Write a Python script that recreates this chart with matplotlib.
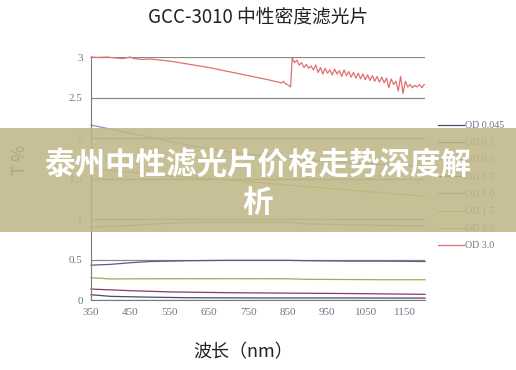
import matplotlib
matplotlib.use('Agg')
import matplotlib.pyplot as plt
from matplotlib.patches import Rectangle

'''GCC-3010 neutral density filter transmission curves'''

plt.rcParams['font.family'] = ['Noto Sans CJK SC', 'DejaVu Sans']

# smooth curves, wavelength in nm
x_045 = [350, 400, 500, 600, 800, 1000, 1200]
y_045 = [0.065, 0.045, 0.035, 0.028, 0.025, 0.025, 0.024]

x_01 = [350, 450, 550, 700, 850, 1000, 1200]
y_01 = [0.135, 0.115, 0.10, 0.09, 0.085, 0.08, 0.07]

x_03 = [350, 400, 450, 500, 550, 600, 650, 700, 750, 800, 900, 1000, 1100, 1200]
y_03 = [2.16, 2.11, 2.06, 2.01, 1.96, 1.91, 1.87, 1.83, 1.80, 1.77, 1.73, 1.70, 1.67, 1.65]

x_05 = [350, 400, 450, 500, 600, 700, 850, 900, 1000, 1100, 1200]
y_05 = [0.43, 0.44, 0.46, 0.475, 0.485, 0.49, 0.49, 0.485, 0.48, 0.48, 0.475]

x_10 = [350, 450, 550, 650, 750, 850, 900, 1000, 1100, 1200]
y_10 = [0.90, 0.92, 0.95, 0.96, 0.96, 0.96, 0.94, 0.93, 0.92, 0.915]

x_15 = [350, 450, 550, 650, 750, 850, 950, 1050, 1150, 1200]
y_15 = [1.62, 1.58, 1.53, 1.50, 1.46, 1.42, 1.38, 1.34, 1.30, 1.28]

x_20 = [350, 400, 500, 700, 850, 900, 1000, 1100, 1200]
y_20 = [0.275, 0.26, 0.262, 0.263, 0.262, 0.255, 0.253, 0.25, 0.25]

x_30 = [350, 370, 390, 410, 430, 440, 450, 460, 480, 500, 520, 550, 600, 650, 700,
        750, 800, 835, 840, 845, 850, 858,
        862, 868, 874, 880, 886, 892, 898, 904, 910, 916, 922, 928, 934, 940, 946,
        952, 958, 964, 970, 976, 982, 988, 994, 1000, 1006, 1012, 1018, 1024, 1030,
        1036, 1042, 1048, 1054, 1060, 1066, 1072, 1078, 1084, 1090, 1096, 1102, 1108,
        1114, 1120, 1126, 1132, 1138, 1144, 1150, 1156, 1162, 1168, 1174, 1180, 1186,
        1192, 1198]
y_30 = [3.0, 2.995, 3.0, 2.99, 2.98, 2.99, 3.0, 2.98, 2.97, 2.975, 2.965, 2.95, 2.91, 2.87, 2.82,
        2.77, 2.72, 2.68, 2.70, 2.67, 2.66, 2.63,
        2.99, 2.93, 2.96, 2.90, 2.93, 2.87, 2.91, 2.86, 2.89, 2.84, 2.90, 2.81, 2.87, 2.79, 2.86,
        2.80, 2.84, 2.78, 2.85, 2.79, 2.83, 2.76, 2.84, 2.77, 2.82, 2.75, 2.81, 2.74, 2.80,
        2.73, 2.79, 2.72, 2.78, 2.71, 2.77, 2.70, 2.76, 2.69, 2.75, 2.68, 2.74, 2.62,
        2.73, 2.66, 2.70, 2.58, 2.76, 2.55, 2.70, 2.63, 2.66, 2.62, 2.65, 2.63, 2.66,
        2.62, 2.66]

labels = ['OD 0.045', 'OD 0.1', 'OD 0.3', 'OD 0.5', 'OD 1.0', 'OD 1.5', 'OD 2.0', 'OD 3.0']
xs = [x_045, x_01, x_03, x_05, x_10, x_15, x_20, x_30]
ys = [y_045, y_01, y_03, y_05, y_10, y_15, y_20, y_30]
colors = ['#4a4a6e', '#8c3a64', '#8e8ec8', '#5a5a86', '#7fa07a', '#d8a030', '#a8a855', '#e07070']

x_ticks = [350, 450, 550, 650, 750, 850, 950, 1050, 1150]
y_ticks = [0, 0.5, 1, 1.5, 2, 2.5, 3]
y_tick_labels = ['0', '0.5', '1', '1.5', '2', '2.5', '3']

fig = plt.figure(figsize=(5.16, 3.70), dpi=100)
ax = fig.add_axes([91 / 516, 1 - 300 / 370, 334 / 516, 243 / 370])

for x, y, c, lab in zip(xs, ys, colors, labels):
    ax.plot(x, y, color=c, linewidth=0.9, label=lab, clip_on=False)

ax.set_xlim(350, 1200)
ax.set_ylim(0, 3)
ax.set_xticks(x_ticks)
ax.set_yticks(y_ticks)
ax.set_yticklabels(y_tick_labels)
ax.tick_params(length=0, labelsize=8, labelcolor='#6b7785', pad=6)
for lab in ax.get_xticklabels() + ax.get_yticklabels():
    lab.set_family('Liberation Serif')
ax.grid(axis='y', color='#8a8a8a', linewidth=0.9)
ax.set_axisbelow(True)
for s in ['top', 'right']:
    ax.spines[s].set_visible(False)
ax.spines['left'].set_color('#7a7a7a')
ax.spines['bottom'].set_color('#7a7a7a')

leg = ax.legend(loc='center left', bbox_to_anchor=(1.012, 0.47), frameon=False,
                prop={'family': 'Liberation Serif', 'size': 7.2}, handlelength=2.6,
                handletextpad=0.1, labelspacing=0.82, labelcolor='#6b7785')

fig.text(0.5, 1 - 17 / 370, 'GCC-3010 中性密度滤光片', ha='center', va='center',
         fontsize=13.5, color='#222222')
fig.text(20 / 516, 1 - 160 / 370, 'T %', rotation=90, ha='center', va='center',
         fontsize=12.5, color='#444444')
fig.text(243 / 516, 1 - 352 / 370, '波长（nm）', ha='center', va='center',
         fontsize=13, color='#222222')

# banner overlay
fig.patches.append(Rectangle((0, 1 - 232 / 370), 1, 104 / 370, transform=fig.transFigure,
                             facecolor='#bfb787', alpha=0.87, edgecolor='none', zorder=5))
fig.text(0.5, 1 - 165 / 370, '泰州中性滤光片价格走势深度解', ha='center', va='center',
         fontsize=22, fontweight='bold', color='white', zorder=6)
fig.text(0.5, 1 - 203 / 370, '析', ha='center', va='center',
         fontsize=22, fontweight='bold', color='white', zorder=6)

fig.savefig('out.png', dpi=100)
